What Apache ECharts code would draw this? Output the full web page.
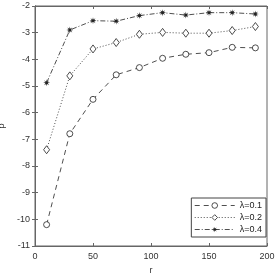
<!DOCTYPE html>
<html><head><meta charset="utf-8">
<script src="https://cdn.jsdelivr.net/npm/echarts@6/dist/echarts.min.js"></script>
<style>html,body{margin:0;padding:0;background:#fff}#c{width:276px;height:276px}</style>
</head><body><div id="c"></div>
<script>
const xValues = [10, 30, 50, 70, 90, 110, 130, 150, 170, 190];
const lambda01 = [-10.2, -6.79, -5.5, -4.58, -4.31, -3.96, -3.81, -3.75, -3.55, -3.57];
const lambda02 = [-7.39, -4.62, -3.61, -3.37, -3.06, -2.99, -3.02, -3.02, -2.92, -2.77];
const lambda04 = [-4.88, -2.9, -2.55, -2.57, -2.36, -2.25, -2.34, -2.25, -2.25, -2.3];
const seriesNames = ['λ=0.1', 'λ=0.2', 'λ=0.4'];

function starPath(n, ro, ri) {
  let d = '';
  for (let i = 0; i < 2 * n; i++) {
    const r = i % 2 === 0 ? ro : ri;
    const a = Math.PI * i / n - Math.PI / 2;
    const x = (50 + r * Math.cos(a)).toFixed(2), y = (50 + r * Math.sin(a)).toFixed(2);
    d += (i === 0 ? 'M' : 'L') + x + ' ' + y + ' ';
  }
  return 'path://' + d + 'Z';
}
const star = starPath(8, 50, 18);
const col = '#222';
const font = 'Liberation Sans';
function pairs(ys) { return xValues.map((x, i) => [x, ys[i]]); }

const chart = echarts.init(document.getElementById('c'));
chart.setOption({
  animation: false,
  backgroundColor: '#fff',
  textStyle: { fontFamily: font },
  grid: { left: 35, right: 9, top: 6, bottom: 30, show: true, borderColor: '#666', borderWidth: 1, containLabel: false, outerBoundsMode: 'none' },
  xAxis: [{
    type: 'value', min: 0, max: 200, interval: 50,
    name: 'r', nameLocation: 'middle', nameGap: 20,
    nameTextStyle: { fontSize: 9, color: '#333', fontFamily: font },
    axisLine: { show: true, lineStyle: { color: '#666' } },
    axisTick: { show: true, inside: true, length: 3, lineStyle: { color: '#666' } },
    axisLabel: { fontSize: 9, color: '#333', margin: 6, fontFamily: font },
    splitLine: { show: false }
  }, {
    type: 'value', min: 0, max: 200, interval: 50, position: 'top',
    axisLine: { show: true, lineStyle: { color: '#666' } },
    axisTick: { show: true, inside: true, length: 3, lineStyle: { color: '#666' } },
    axisLabel: { show: false }, splitLine: { show: false }
  }],
  yAxis: [{
    type: 'value', min: -11, max: -2, interval: 1,
    name: 'ρ', nameLocation: 'middle', nameGap: 29, nameRotate: 90,
    nameTextStyle: { fontSize: 9, color: '#333', fontFamily: font },
    axisLine: { show: true, lineStyle: { color: '#666' } },
    axisTick: { show: true, inside: true, length: 3, lineStyle: { color: '#666' } },
    axisLabel: { fontSize: 9, color: '#333', margin: 5, fontFamily: font },
    splitLine: { show: false }
  }, {
    type: 'value', min: -11, max: -2, interval: 1, position: 'right',
    axisLine: { show: true, lineStyle: { color: '#666' } },
    axisTick: { show: true, inside: true, length: 3, lineStyle: { color: '#666' } },
    axisLabel: { show: false }, splitLine: { show: false }
  }],
  legend: {
    orient: 'vertical', right: 10, bottom: 39,
    backgroundColor: '#fff', borderColor: '#444', borderWidth: 1, borderRadius: 0,
    padding: [3, 4, 3, 3], itemGap: 3, itemWidth: 40, itemHeight: 7,
    textStyle: { fontSize: 9, color: '#222', fontFamily: font },
    lineStyle: { width: 0.8 },
    itemStyle: { borderWidth: 0.8 },
    data: seriesNames
  },
  series: [{
    name: seriesNames[0], type: 'line', data: pairs(lambda01),
    symbol: 'circle', symbolSize: 6,
    lineStyle: { color: col, width: 0.8, type: [5, 4] },
    itemStyle: { color: '#fff', borderColor: col, borderWidth: 0.8 }
  }, {
    name: seriesNames[1], type: 'line', data: pairs(lambda02),
    symbol: 'diamond', symbolSize: [6, 8],
    lineStyle: { color: col, width: 0.8, type: [1, 2] },
    itemStyle: { color: '#fff', borderColor: col, borderWidth: 0.8 }
  }, {
    name: seriesNames[2], type: 'line', data: pairs(lambda04),
    symbol: star, symbolSize: 7,
    lineStyle: { color: col, width: 0.8, type: [5, 2, 1, 2] },
    itemStyle: { color: col }
  }]
});
</script></body></html>
